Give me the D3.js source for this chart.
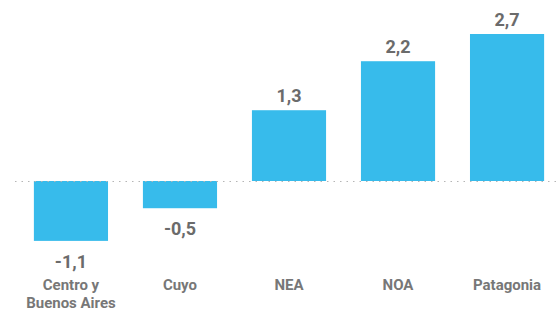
<!DOCTYPE html>
<html>
<head>
<meta charset="utf-8">
<script src="https://cdn.jsdelivr.net/npm/d3@7"></script>
<style>
  body { margin: 0; background: #fff; }
  svg text { font-family: Roboto, "Open Sans", sans-serif; font-weight: 700; }
</style>
</head>
<body>
<div id="chart"></div>
<script>
// regions and values (variación %)
const regions = ["Centro y Buenos Aires", "Cuyo", "NEA", "NOA", "Patagonia"];
const labelLines = [["Centro y", "Buenos Aires"], ["Cuyo"], ["NEA"], ["NOA"], ["Patagonia"]];
const values = [-1.1, -0.5, 1.3, 2.2, 2.7];

const width = 556, height = 311;
const data = regions.map((r, i) => ({ region: r, value: values[i], lines: labelLines[i] }));

const fmt = v => d3.format(".1f")(v).replace(".", ",").replace("−", "-");

const svg = d3.select("#chart").append("svg")
  .attr("width", width)
  .attr("height", height);

const x = d3.scaleBand()
  .domain(regions)
  .range([-1, 579])
  .paddingInner(0.32)
  .paddingOuter(0.32);

const y = d3.scaleLinear()
  .domain([0, 2.7])
  .range([181, 34]);

// bars
svg.selectAll("rect.bar")
  .data(data)
  .join("rect")
  .attr("class", "bar")
  .attr("x", d => x(d.region))
  .attr("width", x.bandwidth())
  .attr("y", d => Math.min(y(d.value), y(0)))
  .attr("height", d => Math.abs(y(d.value) - y(0)))
  .attr("fill", "#37bbeb");

// zero line (dotted)
svg.append("line")
  .attr("x1", 15)
  .attr("x2", width)
  .attr("y1", y(0) + 0.5)
  .attr("y2", y(0) + 0.5)
  .attr("stroke", "#b5b5b5")
  .attr("stroke-width", 1.2)
  .attr("stroke-dasharray", "1.5,5");

// value labels
svg.selectAll("text.val")
  .data(data)
  .join("text")
  .attr("class", "val")
  .attr("x", d => x(d.region) + x.bandwidth() / 2)
  .attr("y", d => d.value >= 0 ? y(d.value) - 8 : y(d.value) + 27)
  .attr("text-anchor", "middle")
  .attr("fill", "#6b6b6b")
  .attr("font-size", 18)
  .text(d => fmt(d.value));

// category labels
const cat = svg.selectAll("text.cat")
  .data(data)
  .join("text")
  .attr("class", "cat")
  .attr("x", d => x(d.region) + x.bandwidth() / 2)
  .attr("y", 290)
  .attr("text-anchor", "middle")
  .attr("fill", "#777")
  .attr("font-size", 15);

cat.selectAll("tspan")
  .data(d => d.lines.map(l => ({ l, cx: x(d.region) + x.bandwidth() / 2 })))
  .join("tspan")
  .attr("x", t => t.cx)
  .attr("dy", (t, i) => i === 0 ? 0 : 18)
  .text(t => t.l);
</script>
</body>
</html>
